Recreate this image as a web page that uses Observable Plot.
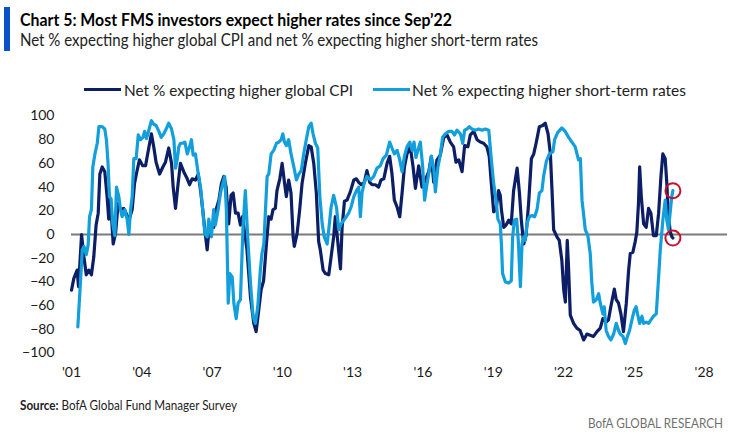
<!DOCTYPE html>
<html><head><meta charset="utf-8">
<script src="https://cdn.jsdelivr.net/npm/d3@7"></script>
<script src="https://cdn.jsdelivr.net/npm/@observablehq/plot@0.6"></script>
<style>
html,body{margin:0;padding:0;background:#fff;}
body{width:740px;height:438px;overflow:hidden;position:relative;font-family:"Lato","Open Sans",sans-serif;color:#111;}
#bar{position:absolute;left:4px;top:7px;width:6px;height:44px;background:#0a52c8;}
.t{position:absolute;white-space:nowrap;transform-origin:0 50%;}
#title{left:20px;top:10px;font-weight:bold;font-size:16.5px;line-height:20px;color:#000;}
#subtitle{left:20px;top:30px;font-size:16.5px;line-height:20px;color:#222;}
.leg{top:80px;height:20px;font-size:16px;line-height:20px;color:#222;}
.sw{position:absolute;top:88px;height:3px;}
#chart{position:absolute;left:0;top:100px;}
#source{left:20px;top:397px;font-size:13px;line-height:16px;color:#222;}
#brand{left:588px;top:415px;font-size:13px;line-height:16px;color:#707070;}
</style></head>
<body>
<div id="bar"></div>
<div class="t" id="title"></div>
<div class="t" id="subtitle"></div>
<div class="sw" id="sw1"></div><div class="t leg" id="leg1"></div>
<div class="sw" id="sw2"></div><div class="t leg" id="leg2"></div>
<div id="chart"></div>
<div class="t" id="source"><b>Source:</b> BofA Global Fund Manager Survey</div>
<div class="t" id="brand">BofA GLOBAL RESEARCH</div>
<script>
const titleText = "Chart 5: Most FMS investors expect higher rates since Sep\u201922";
const subtitleText = "Net % expecting higher global CPI and net % expecting higher short-term rates";
const seriesNames = ["Net % expecting higher global CPI", "Net % expecting higher short-term rates"];
const seriesColors = ["#0c1f66", "#129fdc"];

const xTicks = [2001, 2004, 2007, 2010, 2013, 2016, 2019, 2022, 2025, 2028];
const yTicks = [-100, -80, -60, -40, -20, 0, 20, 40, 60, 80, 100];

// Net % expecting higher global CPI (decimal year, value)
const cpiYears = [2001.00,2001.10,2001.24,2001.30,2001.43,2001.53,2001.63,2001.74,2001.85,2001.95,2002.05,2002.14,2002.21,2002.31,2002.42,2002.52,2002.59,2002.66,2002.78,2002.88,2002.99,2003.09,2003.23,2003.33,2003.45,2003.59,2003.69,2003.80,2003.90,2004.04,2004.16,2004.27,2004.41,2004.51,2004.61,2004.76,2004.90,2005.01,2005.15,2005.27,2005.34,2005.44,2005.55,2005.65,2005.79,2005.94,2006.04,2006.15,2006.29,2006.41,2006.51,2006.60,2006.69,2006.79,2006.89,2006.97,2007.07,2007.17,2007.29,2007.40,2007.50,2007.60,2007.71,2007.81,2007.90,2008.00,2008.11,2008.21,2008.30,2008.36,2008.49,2008.64,2008.78,2008.88,2008.99,2009.09,2009.20,2009.32,2009.42,2009.52,2009.60,2009.70,2009.77,2009.89,2009.99,2010.09,2010.17,2010.27,2010.37,2010.46,2010.51,2010.63,2010.74,2010.84,2010.98,2011.13,2011.23,2011.34,2011.45,2011.55,2011.62,2011.74,2011.84,2011.98,2012.08,2012.19,2012.26,2012.36,2012.48,2012.55,2012.65,2012.76,2012.90,2013.05,2013.16,2013.26,2013.36,2013.50,2013.61,2013.73,2013.83,2013.97,2014.11,2014.21,2014.33,2014.47,2014.58,2014.68,2014.78,2014.90,2015.01,2015.11,2015.21,2015.32,2015.46,2015.58,2015.68,2015.82,2015.96,2016.10,2016.25,2016.36,2016.46,2016.60,2016.74,2016.89,2017.03,2017.17,2017.31,2017.41,2017.53,2017.67,2017.78,2017.92,2018.02,2018.17,2018.31,2018.45,2018.59,2018.73,2018.83,2018.92,2019.02,2019.12,2019.23,2019.30,2019.35,2019.45,2019.55,2019.66,2019.77,2019.87,2020.02,2020.12,2020.20,2020.30,2020.40,2020.51,2020.63,2020.73,2020.83,2020.97,2021.11,2021.22,2021.34,2021.44,2021.51,2021.58,2021.72,2021.82,2021.93,2022.01,2022.08,2022.16,2022.22,2022.29,2022.43,2022.57,2022.71,2022.86,2023.00,2023.14,2023.28,2023.43,2023.57,2023.68,2023.82,2023.92,2024.02,2024.17,2024.25,2024.35,2024.45,2024.56,2024.68,2024.78,2024.85,2024.96,2025.06,2025.13,2025.20,2025.25,2025.32,2025.42,2025.53,2025.63,2025.73,2025.84,2025.96,2026.06,2026.16,2026.24,2026.34,2026.41,2026.48,2026.56,2026.63,2026.67];
const cpiValues = [-47,-37,-30,-44,0,-19,-34,-30,-34,-19,8,18,51,57,53,32,13,30,-8,1,26,21,22,18,12,21,43,54,63,58,58,70,85,74,61,51,57,61,73,60,40,22,43,60,53,47,42,47,46,51,37,21,4,-13,9,8,6,21,29,43,49,40,9,33,35,18,18,8,15,6,-13,-53,-75,-82,-64,-47,-39,-8,15,13,21,22,37,47,60,44,32,46,35,-2,-10,1,21,43,60,75,74,60,35,-6,-13,-30,-33,-34,-19,-2,15,-5,-29,6,28,29,36,46,47,44,42,44,54,44,42,42,40,46,47,60,66,51,29,23,15,35,57,68,74,57,39,58,40,46,53,66,44,63,67,82,84,78,74,61,63,53,75,74,84,87,80,78,77,74,66,43,19,21,37,33,21,6,8,12,9,37,56,35,12,-8,-1,26,64,68,77,91,92,94,85,68,37,4,-2,-5,-22,-47,-57,-5,-30,-68,-75,-79,-81,-89,-84,-85,-86,-82,-79,-71,-74,-72,-61,-46,-55,-58,-67,-82,-58,-30,-16,-15,-6,2,26,57,32,9,6,22,18,-1,-1,18,49,68,64,43,15,2,-2,-3];

// Net % expecting higher short-term rates (decimal year, value)
const rateYears = [2001.27,2001.38,2001.46,2001.53,2001.63,2001.71,2001.77,2001.85,2001.91,2002.00,2002.10,2002.17,2002.31,2002.42,2002.49,2002.56,2002.62,2002.69,2002.76,2002.85,2002.92,2003.02,2003.09,2003.16,2003.28,2003.38,2003.45,2003.52,2003.59,2003.66,2003.76,2003.85,2003.95,2004.05,2004.12,2004.20,2004.30,2004.41,2004.51,2004.61,2004.73,2004.83,2004.94,2005.04,2005.15,2005.27,2005.37,2005.44,2005.51,2005.58,2005.65,2005.75,2005.84,2005.94,2006.04,2006.12,2006.19,2006.29,2006.41,2006.51,2006.60,2006.69,2006.79,2006.86,2006.97,2007.07,2007.14,2007.26,2007.36,2007.46,2007.54,2007.61,2007.69,2007.76,2007.86,2007.93,2008.03,2008.11,2008.21,2008.32,2008.42,2008.52,2008.64,2008.75,2008.85,2008.95,2009.06,2009.13,2009.21,2009.28,2009.35,2009.42,2009.52,2009.63,2009.75,2009.85,2009.95,2010.02,2010.09,2010.17,2010.27,2010.37,2010.49,2010.60,2010.70,2010.81,2010.91,2011.03,2011.13,2011.23,2011.31,2011.41,2011.51,2011.60,2011.70,2011.79,2011.91,2011.98,2012.08,2012.19,2012.31,2012.41,2012.51,2012.62,2012.73,2012.83,2012.93,2013.05,2013.16,2013.26,2013.33,2013.40,2013.50,2013.61,2013.76,2013.90,2014.04,2014.18,2014.30,2014.44,2014.58,2014.68,2014.78,2014.90,2015.01,2015.11,2015.21,2015.32,2015.44,2015.54,2015.62,2015.70,2015.80,2015.89,2015.99,2016.07,2016.17,2016.27,2016.36,2016.46,2016.53,2016.64,2016.74,2016.84,2016.96,2017.10,2017.24,2017.35,2017.45,2017.60,2017.70,2017.78,2017.88,2017.98,2018.09,2018.24,2018.38,2018.52,2018.66,2018.81,2018.92,2019.02,2019.12,2019.20,2019.30,2019.35,2019.40,2019.52,2019.66,2019.77,2019.83,2019.90,2020.00,2020.07,2020.16,2020.23,2020.30,2020.37,2020.44,2020.54,2020.65,2020.77,2020.87,2020.97,2021.08,2021.15,2021.27,2021.40,2021.55,2021.62,2021.75,2021.93,2022.07,2022.22,2022.36,2022.50,2022.64,2022.72,2022.79,2022.93,2023.04,2023.14,2023.21,2023.28,2023.40,2023.50,2023.57,2023.68,2023.74,2023.82,2023.92,2024.02,2024.14,2024.25,2024.35,2024.42,2024.54,2024.64,2024.73,2024.82,2024.92,2025.02,2025.10,2025.16,2025.25,2025.35,2025.42,2025.53,2025.63,2025.73,2025.84,2025.96,2026.06,2026.13,2026.24,2026.34,2026.41,2026.48,2026.55,2026.62,2026.67];
const rateValues = [-78,-41,-13,-10,-17,-9,15,21,57,68,77,91,91,89,80,60,32,30,9,-1,40,32,21,15,21,12,0,21,32,64,64,84,80,82,87,81,88,96,93,92,87,82,85,89,94,89,80,56,63,74,77,77,78,68,74,80,67,68,51,40,21,1,-2,13,-2,21,8,21,35,43,49,21,-58,-33,-36,-58,-71,-58,-55,6,37,-2,-41,-69,-75,-61,-30,-16,-8,21,49,51,68,71,77,78,80,85,78,75,80,68,57,46,51,54,68,81,91,94,85,77,73,32,9,-2,-8,4,23,33,23,4,9,12,15,18,23,32,37,40,15,35,44,49,46,49,56,58,64,67,78,73,68,71,63,53,66,74,78,71,78,65,72,78,57,29,42,54,66,56,36,57,67,82,85,87,87,84,88,85,77,88,89,91,89,88,89,88,89,88,63,43,29,13,9,-8,-33,-40,-41,-39,-2,12,13,-5,-44,-8,-2,-5,9,15,16,15,21,35,37,49,62,68,70,80,86,90,87,82,78,74,63,64,29,4,-1,-16,-41,-57,-55,-50,-58,-67,-61,-81,-86,-89,-84,-75,-81,-84,-86,-92,-86,-81,-72,-64,-61,-67,-75,-69,-75,-74,-75,-72,-69,-67,-36,-13,12,29,12,4,18,32,37];

const FONT = '"Lato","Open Sans",sans-serif';

document.getElementById("title").textContent = titleText;
document.getElementById("subtitle").textContent = subtitleText;
const sw1 = document.getElementById("sw1"), sw2 = document.getElementById("sw2");
const leg1 = document.getElementById("leg1"), leg2 = document.getElementById("leg2");
sw1.style.left = "84px"; sw1.style.width = "37px"; sw1.style.background = seriesColors[0];
leg1.style.left = "124px"; leg1.textContent = seriesNames[0];
sw2.style.left = "373px"; sw2.style.width = "37px"; sw2.style.background = seriesColors[1];
leg2.style.left = "412px"; leg2.textContent = seriesNames[1];

// squeeze text horizontally to match the reference's condensed face
function fit(id, target) {
  const el = document.getElementById(id);
  el.style.transform = "none";
  const w = el.getBoundingClientRect().width;
  if (w > 0) el.style.transform = `scaleX(${target / w})`;
}
fit("title", 432);
fit("subtitle", 518);
fit("leg1", 229);
fit("leg2", 274);
fit("source", 217);
fit("brand", 135);

const cpi = cpiYears.map((x, i) => ({x, y: cpiValues[i]}));
const rates = rateYears.map((x, i) => ({x, y: rateValues[i]}));
const lastPoints = [cpi[cpi.length - 1], rates[rates.length - 1]];

const chart = Plot.plot({
  width: 740,
  height: 290,
  marginLeft: 71,
  marginRight: 13,
  marginTop: 15.5,
  marginBottom: 37.5,
  x: {domain: [2001, 2029]},
  y: {domain: [-100, 100]},
  style: {fontFamily: FONT, fontSize: "14px", color: "#1a1a1a", background: "transparent", overflow: "visible"},
  marks: [
    Plot.axisY({ticks: yTicks, tickSize: 0, tickPadding: 17, label: null, fontSize: 14}),
    Plot.axisX({ticks: xTicks, tickSize: 0, tickPadding: 14, label: null, fontSize: 14, tickFormat: d => "'" + String(d).slice(2)}),
    Plot.ruleY([0], {stroke: "#7a7a7a", strokeWidth: 2}),
    Plot.line(cpi, {x: "x", y: "y", stroke: seriesColors[0], strokeWidth: 3.2, strokeLinejoin: "round"}),
    Plot.line(rates, {x: "x", y: "y", stroke: seriesColors[1], strokeWidth: 3.2, strokeLinejoin: "round"}),
    Plot.dot(lastPoints, {x: "x", y: "y", r: 7.5, stroke: "#c8102e", strokeWidth: 2, fill: "none"})
  ]
});
document.getElementById("chart").appendChild(chart);
</script>
</body></html>
